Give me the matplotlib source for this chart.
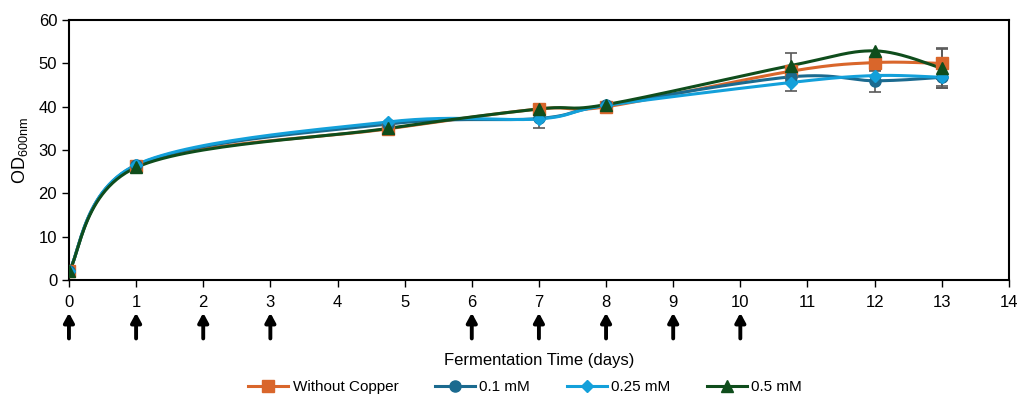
import numpy as np
import matplotlib
matplotlib.use("Agg")
import matplotlib.pyplot as plt
from matplotlib.lines import Line2D

plt.rcParams["font.family"] = ["Liberation Sans Narrow", "Liberation Sans", "DejaVu Sans"]

# sampling days and OD600 readings
days = [0, 1, 4.75, 7, 8, 10.75, 12, 13]
noCopper = [2.0, 26.3, 34.9, 39.5, 40.0, 48.2, 50.2, 50.0]
cu01 = [2.0, 26.5, 36.0, 37.3, 40.4, 46.9, 46.0, 46.8]
cu025 = [2.0, 26.6, 36.5, 37.2, 40.3, 45.6, 47.2, 46.8]
cu05 = [2.0, 26.0, 35.0, 39.5, 40.5, 49.5, 52.9, 48.9]
errNoCopper = [0, 0, 0, 0, 0, 1.0, 1.0, 3.5]
err01 = [0, 0, 0, 0, 0, 1.0, 2.5, 2.0]
err025 = [0, 0, 0, 2.0, 0, 2.0, 1.0, 2.5]
err05 = [0, 0, 0, 0, 0, 3.0, 0, 4.5]
feedDays = [0, 1, 2, 3, 6, 7, 8, 9, 10]

names = ["Without Copper", "0.1 mM", "0.25 mM", "0.5 mM"]
series = [noCopper, cu01, cu025, cu05]
errs = [errNoCopper, err01, err025, err05]
colors = ["#D9662B", "#1B6A8F", "#13A0DA", "#0F4D1C"]
markers = ["s", "o", "D", "^"]
msizes = [9, 8, 6, 8]


def smooth(x, y, n=30):
    # Bezier smoothing like the spreadsheet "smoothed line"
    x = np.asarray(x, float)
    y = np.asarray(y, float)
    P = np.column_stack([x, y])
    P = np.vstack([P[0], P, P[-1]])
    out = []
    t = np.linspace(0, 1, n)[:, None]
    for i in range(1, len(P) - 2):
        p0, p1, p2, p3 = P[i - 1], P[i], P[i + 1], P[i + 2]
        c1 = p1 + (p2 - p0) / 6
        c2 = p2 - (p3 - p1) / 6
        seg = ((1 - t) ** 3) * p1 + 3 * ((1 - t) ** 2) * t * c1 + 3 * (1 - t) * t ** 2 * c2 + t ** 3 * p2
        out.append(seg)
    out = np.vstack(out)
    return out[:, 0], out[:, 1]


fig = plt.figure(figsize=(10.2, 3.94), dpi=100)
ax = fig.add_axes([0.0676, 0.289, 0.9215, 0.660])

for y, e in zip(series, errs):
    e = np.array(e)
    m = e > 0
    ax.errorbar(np.array(days)[m], np.array(y)[m], yerr=e[m], fmt="none",
                ecolor="#595959", elinewidth=1.2, capsize=4, capthick=1.2, zorder=2)

for y, c, mk, ms in zip(series, colors, markers, msizes):
    sx, sy = smooth(days, y)
    ax.plot(sx, sy, color=c, lw=2.2, zorder=3)
    ax.plot(days, y, ls="none", marker=mk, color=c, ms=ms, zorder=4)

ax.set_xlim(0, 14)
ax.set_ylim(0, 60)
ax.set_xticks(range(0, 15))
ax.set_yticks(range(0, 61, 10))
ax.tick_params(axis="both", labelsize=12, direction="out", length=5, width=1, colors="black")
ax.tick_params(axis="x", pad=6)
for s in ax.spines.values():
    s.set_linewidth(1.5)
ax.set_ylabel("OD$_{\\mathregular{600nm}}$", fontsize=13, labelpad=6)
ax.set_xlabel("Fermentation Time (days)", fontsize=12, labelpad=31)

# feeding arrows under the axis
for d in feedDays:
    ax.annotate("", xy=(d, -0.115), xytext=(d, -0.235),
                xycoords=("data", "axes fraction"), textcoords=("data", "axes fraction"),
                arrowprops=dict(arrowstyle="-|>,head_length=0.55,head_width=0.3", color="black", lw=2.8),
                annotation_clip=False)

handles = [Line2D([], [], color=c, lw=2.2, marker=mk, ms=ms) for c, mk, ms in zip(colors, markers, msizes)]
fig.legend(handles, names, loc="center", bbox_to_anchor=(0.515, 0.018), ncol=4, frameon=False,
           fontsize=11, handlelength=2.6, columnspacing=2.4, handletextpad=0.3)

fig.savefig("out.png", dpi=100)
